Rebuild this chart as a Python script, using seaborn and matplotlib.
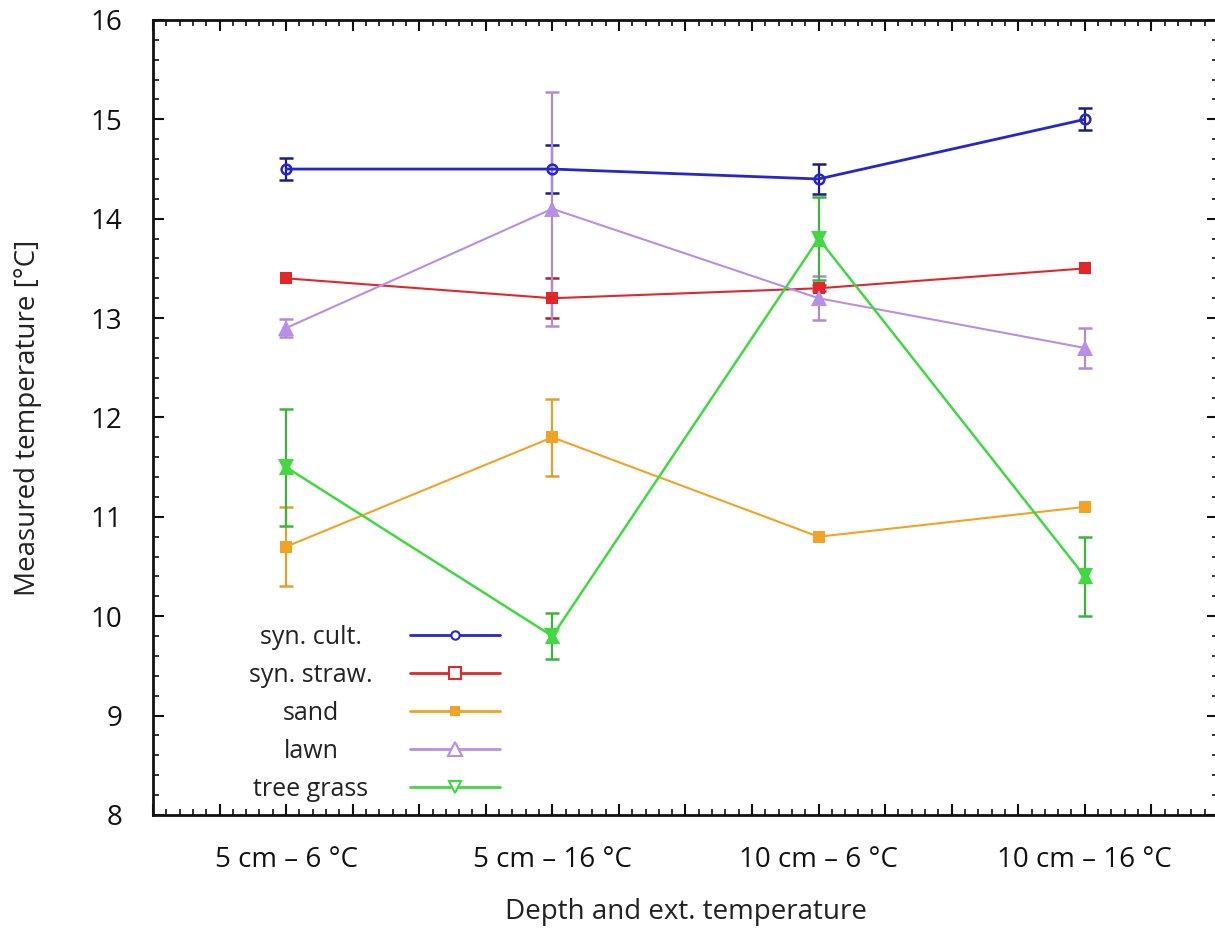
import numpy as np
import pandas as pd
import seaborn as sns
import matplotlib
matplotlib.use("Agg")
import matplotlib.pyplot as plt
from matplotlib.lines import Line2D
from matplotlib.ticker import MultipleLocator

# categories on the x axis
conditions = ["5 cm – 6 °C", "5 cm – 16 °C", "10 cm – 6 °C", "10 cm – 16 °C"]

# measured means and error values per surface
syn_cult = [14.5, 14.5, 14.4, 15.0]
syn_cult_err = [0.11, 0.24, 0.15, 0.11]
syn_straw = [13.4, 13.2, 13.3, 13.5]
syn_straw_err = [0.0, 0.2, 0.03, 0.0]
sand = [10.7, 11.8, 10.8, 11.1]
sand_err = [0.4, 0.39, 0.0, 0.0]
lawn = [12.9, 14.1, 13.2, 12.7]
lawn_err = [0.09, 1.18, 0.22, 0.2]
tree_grass = [11.5, 9.8, 13.8, 10.4]
tree_grass_err = [0.59, 0.23, 0.42, 0.4]

series_names = ["syn. cult.", "syn. straw.", "sand", "lawn", "tree grass"]
series_vals = [syn_cult, syn_straw, sand, lawn, tree_grass]
series_errs = [syn_cult_err, syn_straw_err, sand_err, lawn_err, tree_grass_err]

colors = {"syn. cult.": "#2626cc", "syn. straw.": "#e3262a", "sand": "#f2a224",
          "lawn": "#b88ee6", "tree grass": "#42d842"}
err_colors = {"syn. cult.": "#1c1c8a", "syn. straw.": "#a8262a", "sand": "#e0a030",
              "lawn": "#b08ad8", "tree grass": "#3cb43c"}

rows = []
for name, vals, errs in zip(series_names, series_vals, series_errs):
    for i, (v, e) in enumerate(zip(vals, errs)):
        rows.append({"pos": i, "cond": conditions[i], "series": name, "temp": v, "err": e})
df = pd.DataFrame(rows)

sns.set_style("white")
plt.rcParams["font.family"] = ["Open Sans", "DejaVu Sans"]

fig = plt.figure(figsize=(12.15, 9.3), dpi=100)
ax = fig.add_axes([0.1259, 0.1237, 0.8765, 0.8548])

# error bars first, lines and markers on top
for name in series_names:
    sub = df[(df.series == name) & (df.err > 0)]
    ax.errorbar(sub.pos, sub.temp, yerr=sub.err, fmt="none", ecolor=err_colors[name],
                elinewidth=1.6, capsize=5, capthick=1.8, zorder=2)

style = {
    "syn. cult.": dict(marker="o", markersize=7, markerfacecolor="none", markeredgewidth=1.8, lw=2.0),
    "syn. straw.": dict(marker="s", markersize=9, markeredgewidth=0, lw=1.5),
    "sand": dict(marker="s", markersize=9, markeredgewidth=0, lw=1.5),
    "lawn": dict(marker="^", markersize=11, markeredgewidth=0, lw=1.5),
    "tree grass": dict(marker="v", markersize=11, markeredgewidth=0, lw=1.8),
}
for name in series_names:
    sub = df[df.series == name]
    sns.lineplot(data=sub, x="pos", y="temp", color=colors[name], ax=ax, zorder=3,
                 markeredgecolor=colors[name], **style[name])
# second triangle makes the star-shaped tree grass marker
tg = df[df.series == "tree grass"]
sns.scatterplot(data=tg, x="pos", y="temp", marker="^", s=120, color=colors["tree grass"],
                linewidth=0, ax=ax, zorder=4)

ax.set_xlim(-0.5, 3.5)
ax.set_ylim(8, 16)
xt = np.arange(-0.5, 3.51, 0.25)
ax.set_xticks(xt)
ax.set_xticklabels([conditions[int(t)] if float(t).is_integer() else "" for t in xt])
ax.xaxis.set_minor_locator(MultipleLocator(0.05))
ax.set_yticks(np.arange(8, 17, 1))
ax.yaxis.set_minor_locator(MultipleLocator(0.2))

ax.tick_params(which="both", direction="in", bottom=True, left=True, top=True, right=True,
               colors="#111111")
ax.tick_params(which="major", length=8, width=1.5, labelsize=20, pad=22)
ax.tick_params(which="minor", length=4, width=1.2)
ax.tick_params(axis="y", which="major", pad=22)
for sp in ax.spines.values():
    sp.set_linewidth(2)
    sp.set_color("#111111")

ax.set_xlabel("Depth and ext. temperature", fontsize=20, color="#222222")
ax.set_ylabel("Measured temperature [°C]", fontsize=20, color="#222222")
ax.xaxis.set_label_coords(0.5, -0.122)
ax.xaxis.label.set_va("center")
ax.yaxis.set_label_coords(-0.1175, 0.5)
ax.yaxis.label.set_va("center")

# legend: text left, open-marker sample on the right
handles = []
for name in series_names:
    m = {"syn. cult.": "o", "syn. straw.": "s", "sand": "s", "lawn": "^", "tree grass": "v"}[name]
    ms = {"syn. cult.": 6, "syn. straw.": 9, "sand": 6, "lawn": 10, "tree grass": 9}[name]
    fc = colors[name] if name == "sand" else "white"
    handles.append(Line2D([], [], color=colors[name], lw=2, marker=m, markersize=ms,
                          markerfacecolor=fc, markeredgecolor=colors[name], markeredgewidth=1.5))
leg = ax.legend(handles, series_names, loc="lower right", bbox_to_anchor=(0.326, 0.016),
                frameon=False, markerfirst=False, fontsize=18, handlelength=3.6,
                handletextpad=1.5, labelspacing=0.52, borderpad=0, borderaxespad=0)

# centre the legend labels on a common axis, as in the source figure
fig.canvas.draw()
bbs = [t.get_window_extent() for t in leg.get_texts()]
cx = max(b.x1 for b in bbs) - max(b.width for b in bbs) / 2
W, H = fig.bbox.width, fig.bbox.height
for t, b in zip(leg.get_texts(), bbs):
    t.set_visible(False)
    fig.text(cx / W, b.y0 / H, t.get_text(), ha="center", va="bottom", fontsize=18,
             color="#222222")

fig.savefig("out.png", dpi=100)
